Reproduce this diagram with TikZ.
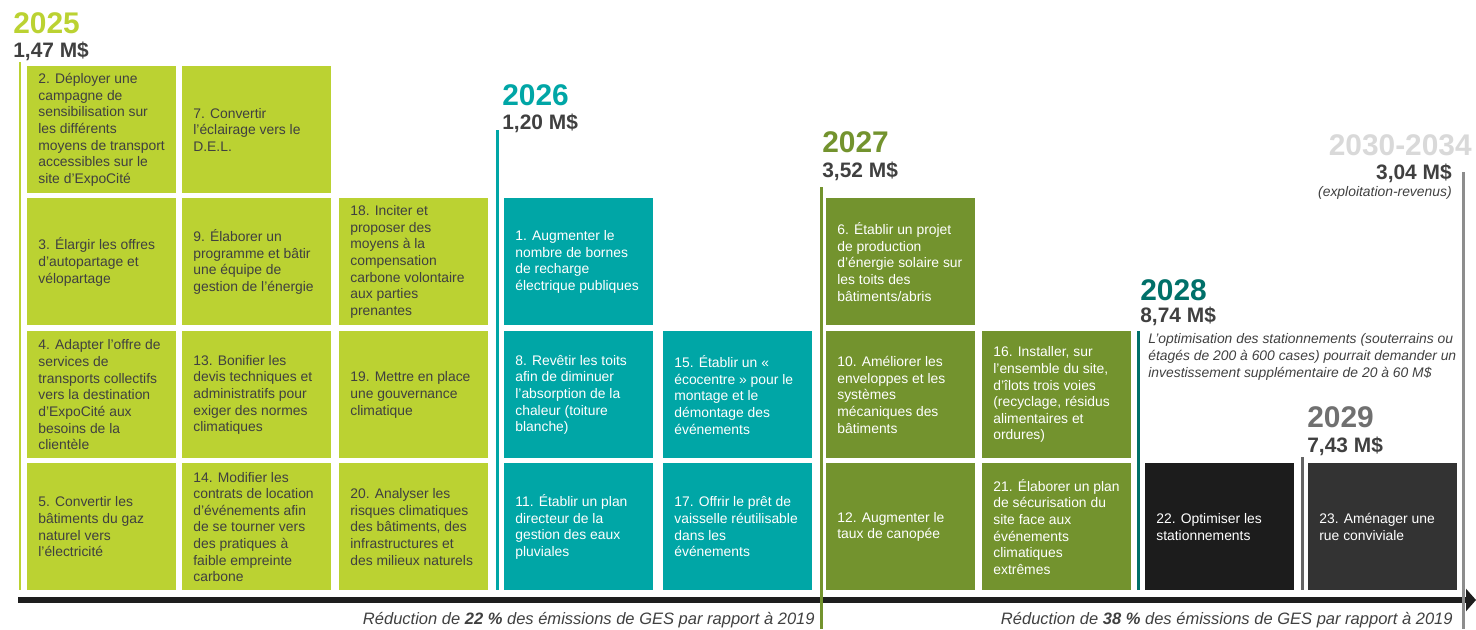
\documentclass[tikz,border=0pt]{standalone}
\usepackage{fontspec}
\setmainfont{Liberation Sans}
\usetikzlibrary{arrows.meta}
\definecolor{c25}{RGB}{187,210,50}
\definecolor{c26}{RGB}{0,166,166}
\definecolor{c27}{RGB}{115,147,46}
\definecolor{c28}{RGB}{0,112,105}
\definecolor{c29}{RGB}{112,112,112}
\definecolor{c30}{RGB}{217,217,217}
\definecolor{txtgris}{RGB}{64,64,64}
\definecolor{noirbox}{RGB}{28,28,28}
\definecolor{grisbox}{RGB}{51,51,51}
\definecolor{axe}{RGB}{30,30,30}
\newcommand{\mesure}[6]{%
  \node[box,fill=#4] (#1) at (#2,#3) {};
  \node[boxtext,text=#5] (#1txt) at ([xshift=0.22cm]#1.west) {#6};
}
\begin{document}
\begin{tikzpicture}[x=0.02cm,y=-0.02cm,
  box/.style={rectangle,anchor=north west,inner sep=0,minimum width=2.98cm,minimum height=2.54cm},
  boxtext/.style={anchor=west,align=left,inner sep=0,font=\fontsize{7.9}{9.45}\selectfont},
  year/.style={anchor=base west,inner sep=0,font=\fontsize{17}{20}\selectfont\bfseries},
  amount/.style={anchor=base west,inner sep=0,text=txtgris,font=\fontsize{11.9}{14}\selectfont\bfseries},
  note/.style={inner sep=0,text=txtgris,font=\fontsize{7.9}{9.45}\selectfont\itshape},
  bilan/.style={anchor=base east,inner sep=0,text=txtgris,font=\fontsize{9.4}{11}\selectfont\itshape},
  yline/.style={line width=0.06cm}]
  \useasboundingbox (0,0) rectangle (1476,629);

  % 2025
  \node[year,text=c25] (y25) at (13,33) {2025};
  \node[amount] (m25) at (13,57) {1,47 M\$};
  \mesure{a2}{27}{66}{c25}{txtgris}{2. Déployer une\\campagne de\\sensibilisation sur\\les différents\\moyens de transport\\accessibles sur le\\site d’ExpoCité}
  \mesure{a7}{182}{66}{c25}{txtgris}{7. Convertir\\l’éclairage vers le\\D.E.L.}
  \mesure{a3}{27}{198}{c25}{txtgris}{3. Élargir les offres\\d’autopartage et\\vélopartage}
  \mesure{a9}{182}{198}{c25}{txtgris}{9. Élaborer un\\programme et bâtir\\une équipe de\\gestion de l’énergie}
  \mesure{a18}{339}{198}{c25}{txtgris}{18. Inciter et\\proposer des\\moyens à la\\compensation\\carbone volontaire\\aux parties\\prenantes}
  \mesure{a4}{27}{331}{c25}{txtgris}{4. Adapter l’offre de\\services de\\transports collectifs\\vers la destination\\d’ExpoCité aux\\besoins de la\\clientèle}
  \mesure{a13}{182}{331}{c25}{txtgris}{13. Bonifier les\\devis techniques et\\administratifs pour\\exiger des normes\\climatiques}
  \mesure{a19}{339}{331}{c25}{txtgris}{19. Mettre en place\\une gouvernance\\climatique}
  \mesure{a5}{27}{463}{c25}{txtgris}{5. Convertir les\\bâtiments du gaz\\naturel vers\\l’électricité}
  \mesure{a14}{182}{463}{c25}{txtgris}{14. Modifier les\\contrats de location\\d’événements afin\\de se tourner vers\\des pratiques à\\faible empreinte\\carbone}
  \mesure{a20}{339}{463}{c25}{txtgris}{20. Analyser les\\risques climatiques\\des bâtiments, des\\infrastructures et\\des milieux naturels}

  % 2026
  \node[year,text=c26] (y26) at (502,105) {2026};
  \node[amount] (m26) at (502,129) {1,20 M\$};
  \mesure{a1}{504}{198}{c26}{white}{1. Augmenter le\\nombre de bornes\\de recharge\\électrique publiques}
  \mesure{a8}{504}{331}{c26}{white}{8. Revêtir les toits\\afin de diminuer\\l’absorption de la\\chaleur (toiture\\blanche)}
  \mesure{a15}{663}{331}{c26}{white}{15. Établir un «\\écocentre » pour le\\montage et le\\démontage des\\événements}
  \mesure{a11}{504}{463}{c26}{white}{11. Établir un plan\\directeur de la\\gestion des eaux\\pluviales}
  \mesure{a17}{663}{463}{c26}{white}{17. Offrir le prêt de\\vaisselle réutilisable\\dans les\\événements}

  % 2027
  \node[year,text=c27] (y27) at (822,152) {2027};
  \node[amount] (m27) at (822,177) {3,52 M\$};
  \mesure{a6}{826}{198}{c27}{white}{6. Établir un projet\\de production\\d’énergie solaire sur\\les toits des\\bâtiments/abris}
  \mesure{a10}{826}{331}{c27}{white}{10. Améliorer les\\enveloppes et les\\systèmes\\mécaniques des\\bâtiments}
  \mesure{a16}{982}{331}{c27}{white}{16. Installer, sur\\l’ensemble du site,\\d’îlots trois voies\\(recyclage, résidus\\alimentaires et\\ordures)}
  \mesure{a12}{826}{463}{c27}{white}{12. Augmenter le\\taux de canopée}
  \mesure{a21}{982}{463}{c27}{white}{21. Élaborer un plan\\de sécurisation du\\site face aux\\événements\\climatiques\\extrêmes}

  % 2028 - 2029
  \node[year,text=c28] (y28) at (1140,300) {2028};
  \node[amount] (m28) at (1140,322) {8,74 M\$};
  \node[note,anchor=west,align=left] (n28) at (1148,357) {L’optimisation des stationnements (souterrains ou\\étagés de 200 à 600 cases) pourrait demander un\\investissement supplémentaire de 20 à 60 M\$};
  \mesure{a22}{1145}{463}{noirbox}{white}{22. Optimiser les\\stationnements}
  \node[year,text=c29] (y29) at (1307,427) {2029};
  \node[amount] (m29) at (1307,452) {7,43 M\$};
  \mesure{a23}{1308}{463}{grisbox}{white}{23. Aménager une\\rue conviviale}

  % 2030-2034
  \node[year,anchor=base east,text=c30] (y30) at (1472,155) {2030-2034};
  \node[amount,anchor=base east] (m30) at (1452,179) {3,04 M\$};
  \node[note,anchor=base east] (e30) at (1452,196) {(exploitation-revenus)};

  % lignes
  \coordinate (h25) at (20,62);    \coordinate (b25) at (20,590);
  \coordinate (h26) at (497,130);  \coordinate (b26) at (497,590);
  \coordinate (h27) at (821,187);  \coordinate (b27) at (821,629);
  \coordinate (h28) at (1138,331); \coordinate (b28) at (1138,590);
  \coordinate (h29) at (1302,457); \coordinate (b29) at (1302,590);
  \coordinate (h30) at (1463,172); \coordinate (b30) at (1463,629);
  \coordinate (axL) at (18,600);   \coordinate (axR) at (1476,600);
  \draw[yline,c25] (h25) -- (b25);
  \draw[yline,c26] (h26) -- (b26);
  \draw[yline,c28] (h28) -- (b28);
  \draw[yline,c29!90!black] (h29) -- (b29);
  \draw[line width=0.12cm,axe,-{Triangle[length=0.2cm,width=0.44cm]}] (axL) -- (axR);
  \draw[yline,c27] (h27) -- (b27);
  \draw[yline,c29!80!white] (h30) -- (b30);

  \node[bilan] (r22) at (815,624) {Réduction de \textbf{22 \%} des émissions de GES par rapport à 2019};
  \node[bilan] (r38) at (1453,624) {Réduction de \textbf{38 \%} des émissions de GES par rapport à 2019};
\end{tikzpicture}
\end{document}
